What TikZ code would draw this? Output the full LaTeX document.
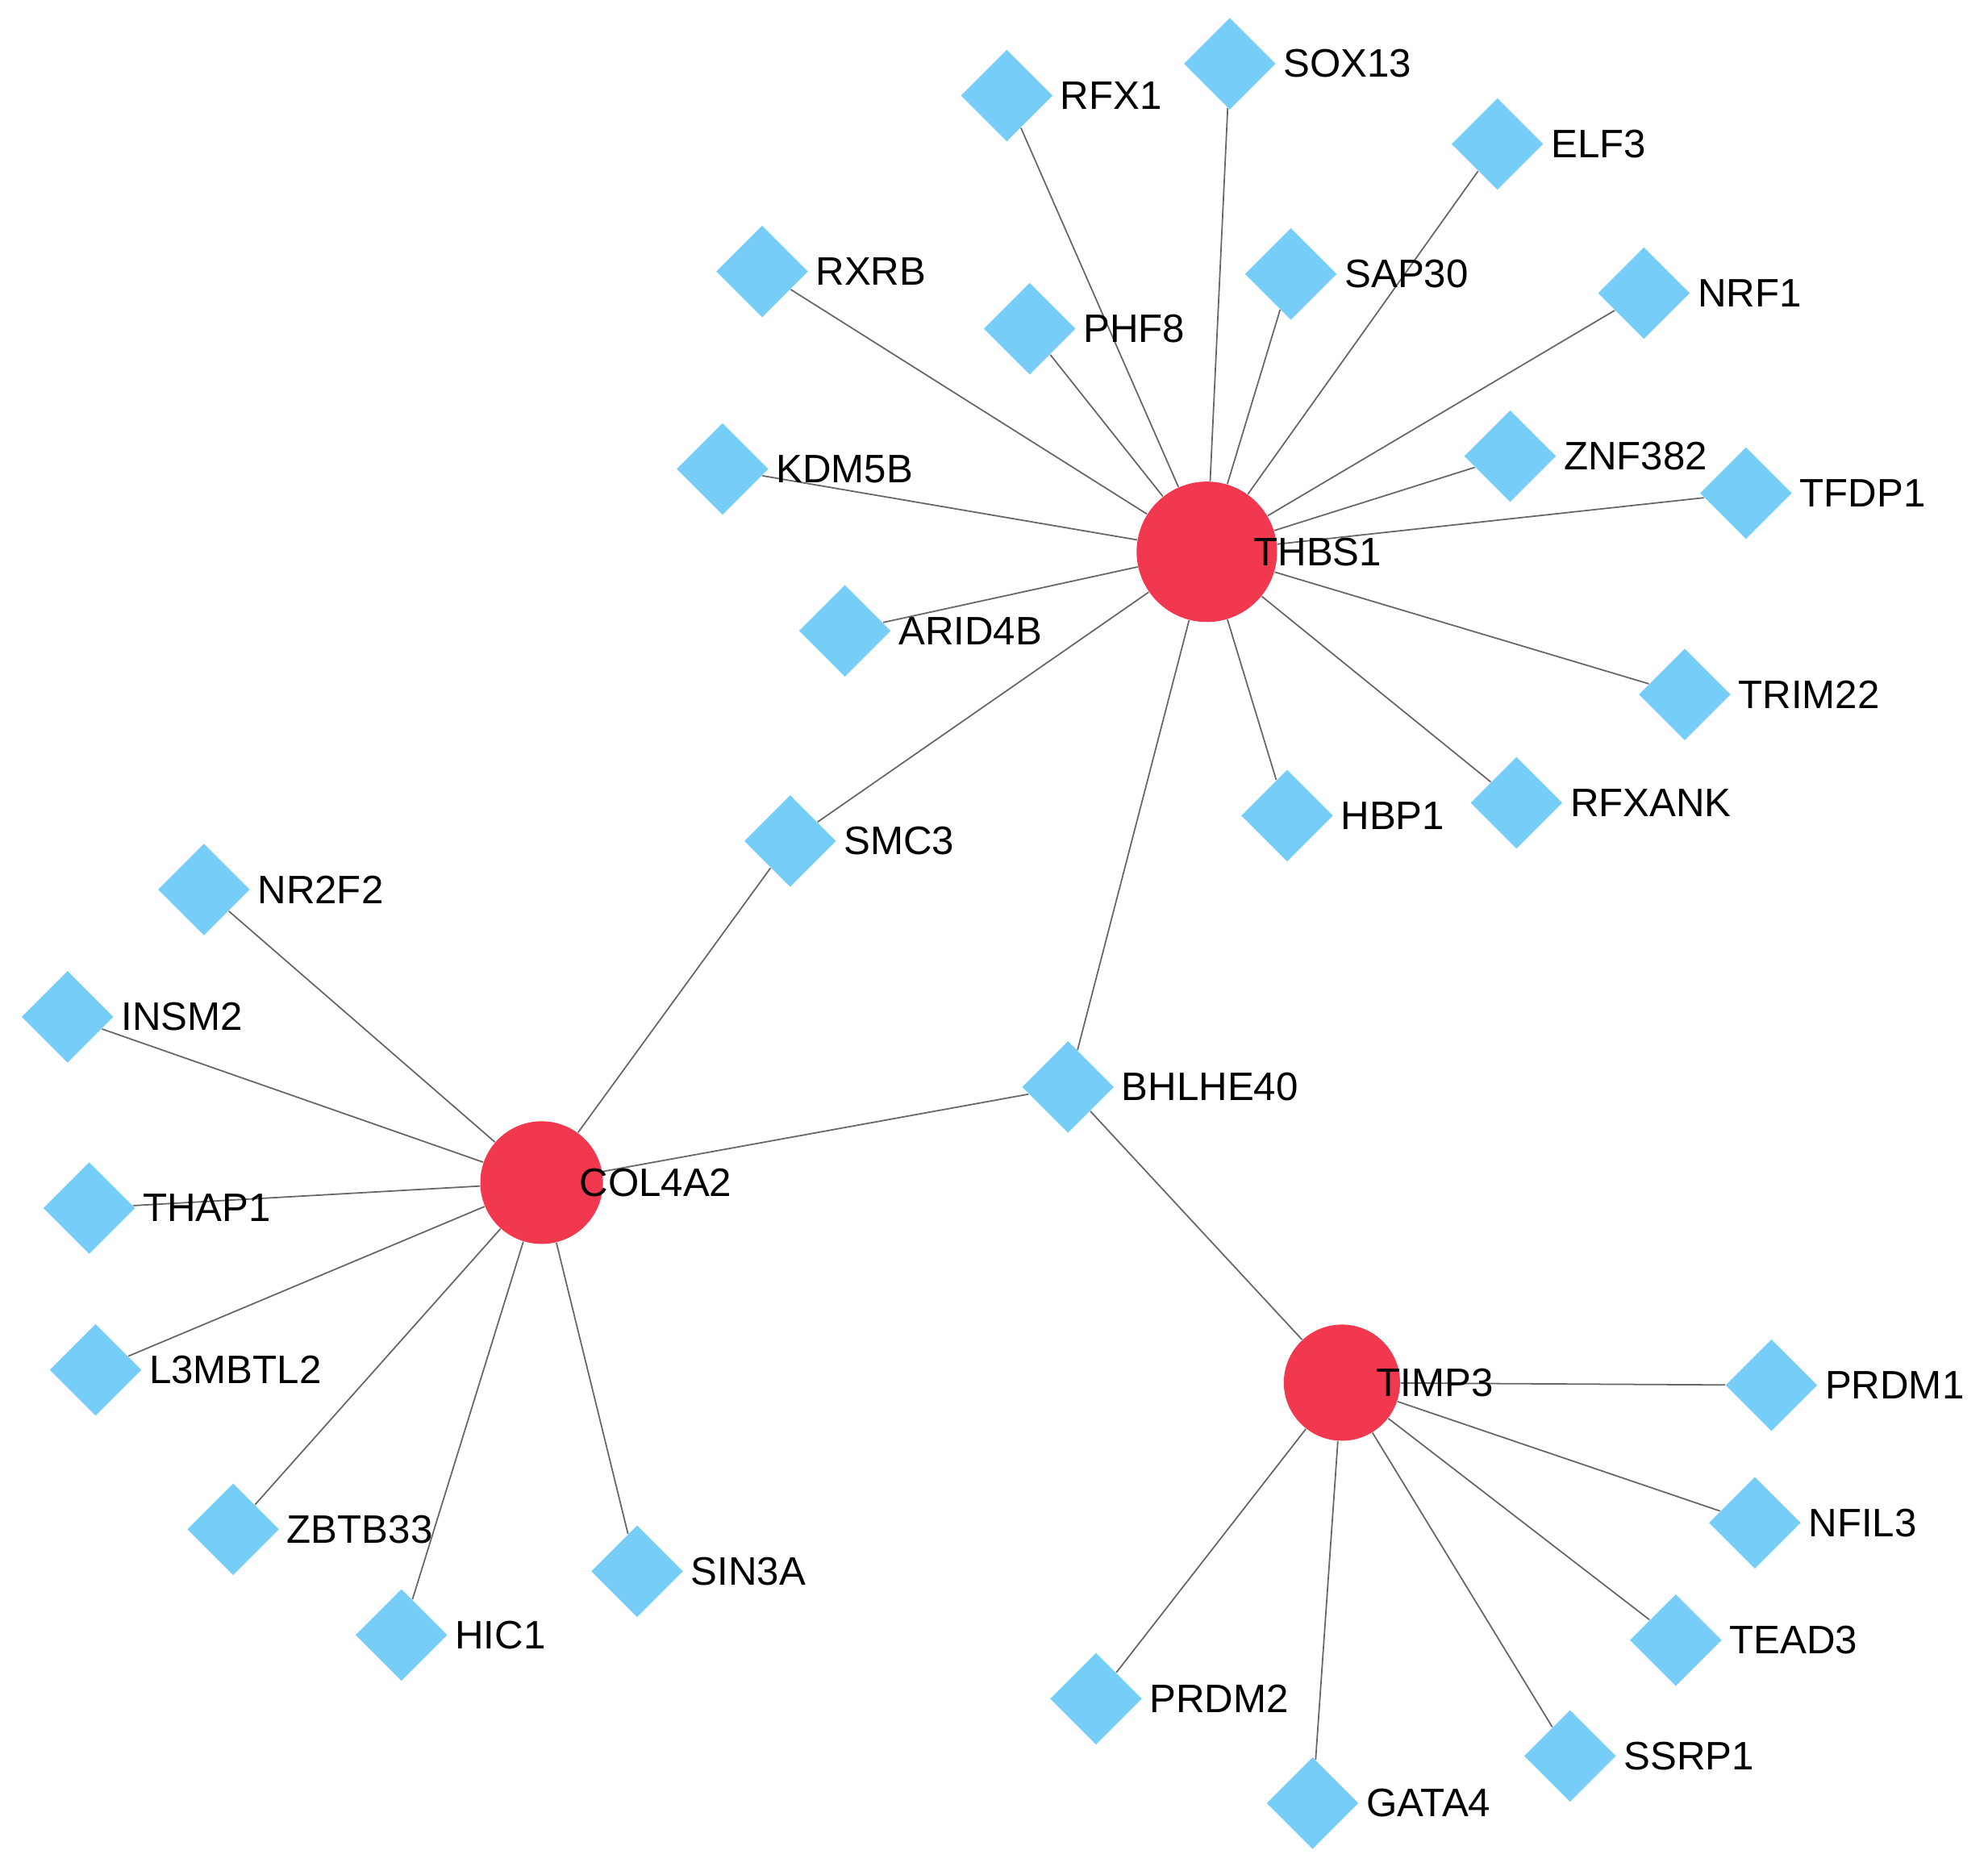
\documentclass[tikz,border=0pt]{standalone}
\usepackage{fontspec}
\setmainfont{Liberation Sans}
\usetikzlibrary{shapes.geometric,backgrounds}
\definecolor{tfblue}{RGB}{118,206,248}
\definecolor{genered}{RGB}{241,56,78}
\tikzset{
  tf/.style={diamond, fill=tfblue, inner sep=0pt, minimum width=1.14cm, minimum height=1.14cm,
    label={[label distance=-1pt, font=\fontsize{14}{16}\selectfont]right:#1}},
  gene/.style={circle, fill=genered, inner sep=0pt,
    label={[label distance=-12pt, font=\fontsize{14}{16}\selectfont]right:#1}},
  link/.style={draw=gray!80!black, line width=0.5pt}
}
\begin{document}
\begin{tikzpicture}[x=0.0158cm, y=-0.0158cm]
\useasboundingbox (0,0) rectangle (1560,1468);
\node[gene=THBS1, minimum size=1.74cm] (thbs1) at (947,433) {};
\node[gene=COL4A2, minimum size=1.52cm] (col4a2) at (425,928) {};
\node[gene=TIMP3, minimum size=1.44cm] (timp3) at (1053,1085) {};
\foreach \n/\x/\y in {RFX1/790/75, SOX13/965/50, ELF3/1175/113, RXRB/598/213, PHF8/808/258,
  SAP30/1013/215, NRF1/1290/230, KDM5B/567/368, ZNF382/1185/358, TFDP1/1370/387,
  ARID4B/663/495, TRIM22/1322/545, HBP1/1010/640, RFXANK/1190/630, SMC3/620/660,
  NR2F2/160/698, INSM2/53/798, BHLHE40/838/853, THAP1/70/948, L3MBTL2/75/1075,
  ZBTB33/183/1200, HIC1/315/1283, SIN3A/500/1233, PRDM1/1390/1087, NFIL3/1377/1195,
  TEAD3/1315/1287, PRDM2/860/1333, SSRP1/1232/1378, GATA4/1030/1415}
  \node[tf=\n] (\n) at (\x,\y) {};
\begin{scope}[on background layer]
\foreach \v in {RFX1,SOX13,ELF3,RXRB,PHF8,SAP30,NRF1,KDM5B,ZNF382,TFDP1} \draw[link] (thbs1) -- (\v);
\foreach \v in {ARID4B,TRIM22,HBP1,RFXANK,SMC3,BHLHE40} \draw[link] (thbs1) -- (\v);
\foreach \v in {SMC3,NR2F2,INSM2,BHLHE40,THAP1,L3MBTL2,ZBTB33,HIC1,SIN3A} \draw[link] (col4a2) -- (\v);
\foreach \v in {BHLHE40,PRDM1,NFIL3,TEAD3,PRDM2,SSRP1,GATA4} \draw[link] (timp3) -- (\v);
\end{scope}
\end{tikzpicture}
\end{document}
